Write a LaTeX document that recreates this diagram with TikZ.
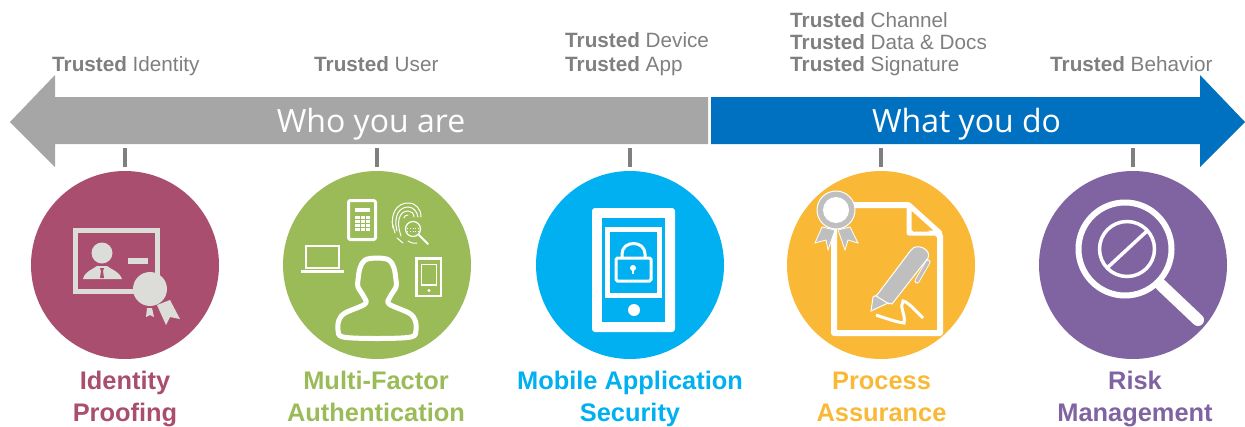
\documentclass[tikz,border=0pt]{standalone}
\usepackage{fontspec}
\setmainfont{Liberation Sans}
\newfontfamily\barfont{Open Sans}
\usepackage{xcolor}
\usepackage{tikz}
\definecolor{barGray}{HTML}{A6A6A6}
\definecolor{barBlue}{HTML}{0070C0}
\definecolor{labelGray}{HTML}{7F7F7F}
\definecolor{roseC}{HTML}{A94E6E}
\definecolor{greenC}{HTML}{9BBB59}
\definecolor{cyanC}{HTML}{00B0F0}
\definecolor{amberC}{HTML}{F9B936}
\definecolor{purpleC}{HTML}{8064A2}
\definecolor{paleC}{HTML}{DCDCD8}
\definecolor{penC}{HTML}{BFBFBF}
\tikzset{
  main node/.style={circle,minimum size=188pt,inner sep=0pt},
  trust node/.style={anchor=west,inner sep=0pt,align=left,text=labelGray,font=\fontsize{20.7}{22.5}\selectfont},
  bar node/.style={inner sep=0pt,text=white,font=\barfont\fontsize{32}{36}\selectfont},
  title node/.style={inner sep=0pt,align=center,font=\bfseries\fontsize{25.4}{32}\selectfont},
  tick line/.style={draw=labelGray,line width=3.5pt,shorten >=4pt}
}

\begin{document}
\begin{tikzpicture}[x=1pt,y=-1pt]
  \useasboundingbox (0,0) rectangle (1245,426);
  % the two arrows
  \fill [barGray] (10,122) -- (55,75) -- (55,97) -- (708,97) -- (708,144) -- (55,144) -- (55,167) -- cycle;
  \fill [barBlue] (711,97) -- (1200,97) -- (1200,75) -- (1245,122) -- (1200,167) -- (1200,144) -- (711,144) -- cycle;
  \node [bar node] (who) at (371,125.5) {\strut Who you are};
  \node [bar node] (what) at (966.5,125.5) {\strut What you do};
  % labels above
  \node [trust node] (identity) at (52,66.5) {\strut\textbf{Trusted} Identity};
  \node [trust node] (user) at (314,66.5) {\strut\textbf{Trusted} User};
  \node [trust node,font=\fontsize{20.7}{24}\selectfont] (device) at (565,54.2) {\strut\textbf{Trusted} Device\\\strut\textbf{Trusted} App};
  \node [trust node,font=\fontsize{20.7}{22}\selectfont] (channel) at (790,44.6) {\strut\textbf{Trusted} Channel\\\strut\textbf{Trusted} Data \& Docs\\\strut\textbf{Trusted} Signature};
  \node [trust node] (behavior) at (1050,66.5) {\strut\textbf{Trusted} Behavior};
  % circles
  \node [main node,fill=roseC] (c1) at (125,265) {};
  \node [main node,fill=greenC] (c2) at (377,265) {};
  \node [main node,fill=cyanC] (c3) at (630,265) {};
  \node [main node,fill=amberC] (c4) at (881,265) {};
  \node [main node,fill=purpleC] (c5) at (1133,265) {};
  % ticks
  \coordinate (t1) at (125,148);
  \coordinate (t2) at (377,148);
  \coordinate (t3) at (630,148);
  \coordinate (t4) at (881,148);
  \coordinate (t5) at (1133,148);
  \draw [tick line] (t1) -- (c1.north);
  \draw [tick line] (t2) -- (c2.north);
  \draw [tick line] (t3) -- (c3.north);
  \draw [tick line] (t4) -- (c4.north);
  \draw [tick line] (t5) -- (c5.north);
  % titles
  \node [title node,text=roseC] (t-identity) at (125,398.6) {\strut Identity\\\strut Proofing};
  \node [title node,text=greenC] (t-factor) at (376,398.6) {\strut Multi-Factor\\\strut Authentication};
  \node [title node,text=cyanC] (t-mobile) at (630,398.6) {\strut Mobile Application\\\strut Security};
  \node [title node,text=amberC] (t-process) at (881.5,398.6) {\strut Process\\\strut Assurance};
  \node [title node,text=purpleC] (t-risk) at (1135,398.6) {\strut Risk\\\strut Management};
  % identity icon
  \draw [paleC,line width=5pt] (75.5,230.5) rectangle (157.5,291);
  \fill [paleC] (102,253) circle (10.5);
  \fill [paleC] (83,279) .. controls (85,271) and (92,270) .. (97,266) -- (107,266) .. controls (112,270) and (119,271) .. (122,279) -- cycle;
  \fill [roseC] (100,268) -- (104,268) -- (103,271) -- (104,278) -- (100,278) -- (101,271) -- cycle;
  \fill [paleC] (128,258) rectangle (148,264);
  \fill [paleC] (170,300) -- (180,319) -- (170,317) -- (166,325) -- (157,305) -- cycle;
  \fill [paleC] (147,308) -- (146,317) -- (150,315) -- (154,317) -- (152,308) -- cycle;
  \fill [paleC] (150,289) circle (17);
  % multi-factor icon
  \draw [white,line width=3pt,rounded corners=2pt] (348.5,200.5) rectangle (375.5,239.5);
  \fill [white] (355,208) rectangle (369.5,212);
  \fill [white] (355,216) rectangle (370,231);
  \draw [greenC,line width=1pt] (360,216) -- (360,231) (365,216) -- (365,231) (355,219.7) -- (370,219.7) (355,223.5) -- (370,223.5) (355,227.2) -- (370,227.2);
  \draw [white,line width=1.5pt] (306,246) rectangle (339,268);
  \fill [white] (301,270) rectangle (344,273);
  \draw [white,line width=2.5pt] (416.5,258.5) rectangle (441,296);
  \draw [white,line width=1.5pt] (421.5,264.5) rectangle (436.5,285);
  \fill [white] (429,290.5) circle (1.6);
  \draw [white,line width=5pt,line join=round] plot [smooth cycle,tension=0.55] coordinates {(377,258) (365,260) (360,268) (358,280) (358,287) (364,297) (365,304) (345,313) (339,320) (338,330) (343,337) (377,338.5) (411,337) (416,330) (415,320) (409,313) (389,304) (390,297) (396,287) (396,280) (394,268) (389,260)};
  \draw [white,line width=1pt,line cap=round] (393,228) .. controls (390,212) and (398,203) .. (408,203) .. controls (416,203) and (421,209) .. (421,217)
    (397,231) .. controls (393,215) and (400,207) .. (408,207) .. controls (413,207) and (417,211) .. (418,217)
    (401,236) .. controls (396,222) and (399,211) .. (408,211) .. controls (411,211) and (414,213) .. (414,217)
    (404,218) .. controls (404,216) and (406,215) .. (408,215)
    (397,238) -- (403,243) (408,241) .. controls (412,243) and (414,244) .. (417,243) (392,222) -- (395,233);
  \fill [greenC] (413,229) circle (8);
  \draw [white,line width=1.2pt] (413,229) circle (7.5);
  \draw [white,line width=2pt,line cap=round] (419,235) -- (428,244);
  \draw [white,line width=.8pt,dotted] (407,228) -- (419,228) (407,231) -- (419,231);
  % mobile icon
  \fill [white,rounded corners=3pt] (592,208) rectangle (675,332);
  \fill [cyanC] (602,218) rectangle (665,322);
  \draw [white,line width=5pt] (607.5,229.5) rectangle (659.5,295.5);
  \fill [white] (634,310) circle (6);
  \draw [white,line width=3pt,rounded corners=1.5pt] (616,258) rectangle (651,281);
  \draw [white,line width=3pt] (622,258) -- (622,254) .. controls (622,240) and (645,240) .. (645,254) -- (645,258);
  \fill [white] (633,268) circle (3);
  \fill [white] (631.8,268) rectangle (634.2,274);
  % process icon
  \draw [white,line width=6pt,line join=round] (834,205) -- (908,205) -- (940,236) -- (940,333) -- (834,333) -- cycle;
  \draw [white,line width=5pt,fill=amberC,line join=round] (909,205) -- (909,233) -- (940,233) -- cycle;
  \fill [amberC] (913,216) -- (913,231.5) -- (929,231.5) -- cycle;
  \draw [white,line width=.8pt,fill=penC] (822,227) -- (815,243) -- (826,240) -- (828,250) -- (835,230) -- cycle;
  \draw [white,line width=.8pt,fill=penC] (838,230) -- (845,250) -- (848,240) -- (858,243) -- (850,227) -- cycle;
  \draw [white,line width=1pt,fill=penC] (836,210) circle (19);
  \fill [white] (836,210) circle (13);
  \draw [white,line width=5pt,line cap=round] (928,262) -- (917,281);
  \draw [penC,line width=3.4pt,line cap=round] (928,262) -- (917,281);
  \draw [white,line width=1pt,fill=penC] (871,311) -- (873,297) -- (877,295) -- (911,250) .. controls (917,242) and (932,250) .. (928,258) -- (892,304) -- (888,303) -- cycle;
  \draw [white,line width=1pt] (876,296) -- (889,304);
  \draw [white,line width=3pt] (876,315) .. controls (885,318) and (896,322) .. (904,323) .. controls (906,315) and (899,307) .. (903,301) .. controls (908,302) and (916,311) .. (923,318);
  % risk icon
  \draw [white,line width=6pt] (1125,249) circle (46.5);
  \draw [white,line width=3.5pt] (1127,249) circle (27.5);
  \draw [white,line width=3.5pt] (1107,268) -- (1147,231);
  \draw [white,line width=12pt,line cap=round] (1161,285) -- (1198,320);
\end{tikzpicture}
\end{document}
